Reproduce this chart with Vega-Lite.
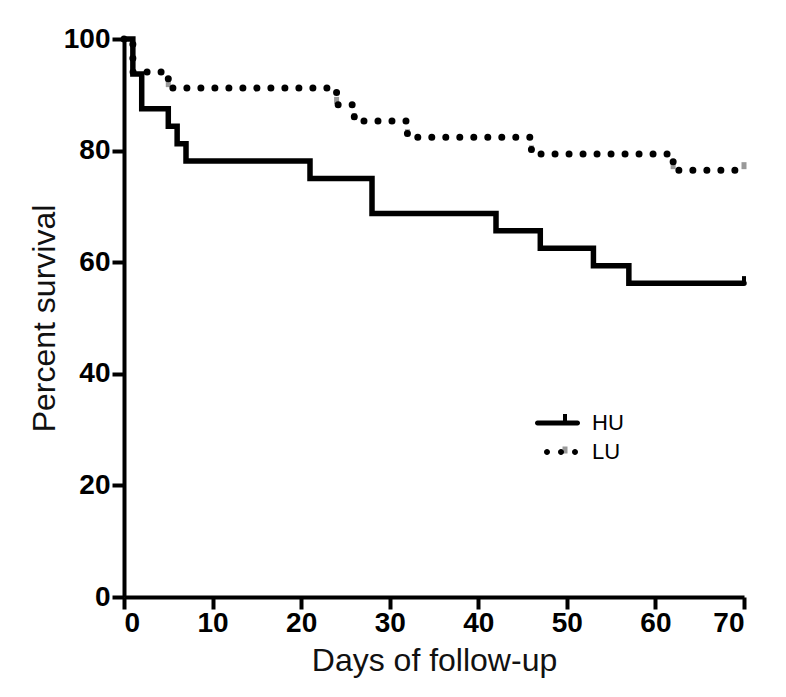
{
  "$schema": "https://vega.github.io/schema/vega-lite/v6.json",
  "width": 620,
  "height": 558,
  "autosize": {"type": "none"},
  "padding": {"left": 124, "top": 39, "right": 42, "bottom": 100},
  "background": "white",
  "config": {
    "view": {"stroke": null},
    "axis": {
      "domainColor": "black",
      "domainWidth": 4,
      "tickColor": "black",
      "tickWidth": 4,
      "tickSize": 12,
      "grid": false,
      "labelFont": "Liberation Sans",
      "labelFontWeight": "bold",
      "labelFontSize": 28,
      "labelColor": "black",
      "labelPadding": 2,
      "titleFont": "Liberation Sans",
      "titleFontWeight": "normal",
      "titleFontSize": 32,
      "titleColor": "#111111"
    },
    "legend": {"labelFont": "Liberation Sans", "labelFontSize": 22, "labelColor": "black", "padding": 0, "symbolStrokeWidth": 0}
  },
  "datasets": {
    "curves": [
      {"series": "HU", "day": 0, "pct": 100},
      {"series": "HU", "day": 1, "pct": 93.75},
      {"series": "HU", "day": 2, "pct": 87.5},
      {"series": "HU", "day": 5, "pct": 84.375},
      {"series": "HU", "day": 6, "pct": 81.25},
      {"series": "HU", "day": 7, "pct": 78.125},
      {"series": "HU", "day": 21, "pct": 75},
      {"series": "HU", "day": 28, "pct": 68.75},
      {"series": "HU", "day": 42, "pct": 65.625},
      {"series": "HU", "day": 47, "pct": 62.5},
      {"series": "HU", "day": 53, "pct": 59.375},
      {"series": "HU", "day": 57, "pct": 56.25},
      {"series": "HU", "day": 70, "pct": 56.25},
      {"series": "LU", "day": 0, "pct": 100},
      {"series": "LU", "day": 1, "pct": 94.1},
      {"series": "LU", "day": 5, "pct": 91.2},
      {"series": "LU", "day": 24, "pct": 88.2},
      {"series": "LU", "day": 26, "pct": 85.3},
      {"series": "LU", "day": 32, "pct": 82.4},
      {"series": "LU", "day": 46, "pct": 79.4},
      {"series": "LU", "day": 62, "pct": 76.5},
      {"series": "LU", "day": 70, "pct": 76.5}
    ],
    "censored": [
      {"group": "HU", "day": 70, "pct": 56.25},
      {"group": "LU", "day": 5, "pct": 92.0},
      {"group": "LU", "day": 24, "pct": 89.0},
      {"group": "LU", "day": 26, "pct": 86.1},
      {"group": "LU", "day": 32, "pct": 83.2},
      {"group": "LU", "day": 46, "pct": 80.3},
      {"group": "LU", "day": 62, "pct": 77.3},
      {"group": "LU", "day": 70, "pct": 77.3}
    ]
  },
  "resolve": {"scale": {"shape": "independent", "color": "independent"}},
  "layer": [
    {
      "data": {"name": "censored"},
      "mark": {"type": "point", "filled": true, "size": 100, "opacity": 1},
      "encoding": {
        "x": {"field": "day", "type": "quantitative"},
        "y": {"field": "pct", "type": "quantitative"},
        "color": {
          "field": "group", "type": "nominal",
          "scale": {"range": ["black", "#999999"]},
          "legend": {
            "orient": "none", "legendX": 430, "legendY": 371, "title": null,
            "symbolSize": 100, "symbolOpacity": 1, "labelExpr": "''",
            "labelOffset": 1, "rowPadding": 7
          }
        },
        "shape": {
          "field": "group", "type": "nominal",
          "scale": {"range": ["M-0.4,-1.4H0.4V0H-0.4Z", "M-0.5,-0.7H0.5V0.7H-0.5Z"]},
          "legend": {
            "orient": "none", "legendX": 430, "legendY": 371, "title": null,
            "symbolSize": 100, "symbolOpacity": 1, "labelExpr": "''",
            "labelOffset": 1, "rowPadding": 7
          }
        }
      }
    },
    {
      "data": {"name": "curves"},
      "mark": {"type": "line", "interpolate": "step-after", "strokeCap": "round", "color": "black"},
      "encoding": {
        "x": {
          "field": "day", "type": "quantitative",
          "scale": {"domain": [0, 70], "nice": false, "zero": false},
          "axis": {"values": [0, 10, 20, 30, 40, 50, 60, 70], "title": "Days of follow-up", "titlePadding": 8, "labelPadding": 0}
        },
        "y": {
          "field": "pct", "type": "quantitative",
          "scale": {"domain": [0, 100], "nice": false},
          "axis": {"values": [0, 20, 40, 60, 80, 100], "title": "Percent survival", "titlePadding": 2}
        },
        "strokeDash": {
          "field": "series", "type": "nominal",
          "scale": {"domain": ["HU", "LU"], "range": [[1, 0], [0, 14]]},
          "legend": null
        },
        "strokeWidth": {
          "field": "series", "type": "nominal",
          "scale": {"domain": ["HU", "LU"], "range": [5.5, 7]},
          "legend": null
        }
      }
    },
    {
      "data": {"name": "curves"},
      "mark": {"type": "point", "filled": true, "size": 0, "color": "black"},
      "encoding": {
        "x": {"field": "day", "type": "quantitative"},
        "y": {"field": "pct", "type": "quantitative"},
        "shape": {
          "field": "series", "type": "nominal",
          "scale": {
            "domain": ["HU", "LU"],
            "range": [
              "M-8.5,-0.5H-0.5A0.5,0.5,0,0,1,-0.5,0.5H-8.5A0.5,0.5,0,0,1,-8.5,-0.5Z",
              "M-7.2,0A0.6,0.6,0,1,0,-6,0A0.6,0.6,0,1,0,-7.2,0ZM-4.4,0A0.6,0.6,0,1,0,-3.2,0A0.6,0.6,0,1,0,-4.4,0ZM-1.6,0A0.6,0.6,0,1,0,-0.4,0A0.6,0.6,0,1,0,-1.6,0Z"
            ]
          },
          "legend": {
            "orient": "none", "legendX": 445, "legendY": 373, "title": null,
            "symbolSize": 100, "symbolFillColor": "black", "symbolOpacity": 1,
            "labelOffset": 1, "rowPadding": 7
          }
        }
      }
    }
  ],
  "encoding": {}
}
